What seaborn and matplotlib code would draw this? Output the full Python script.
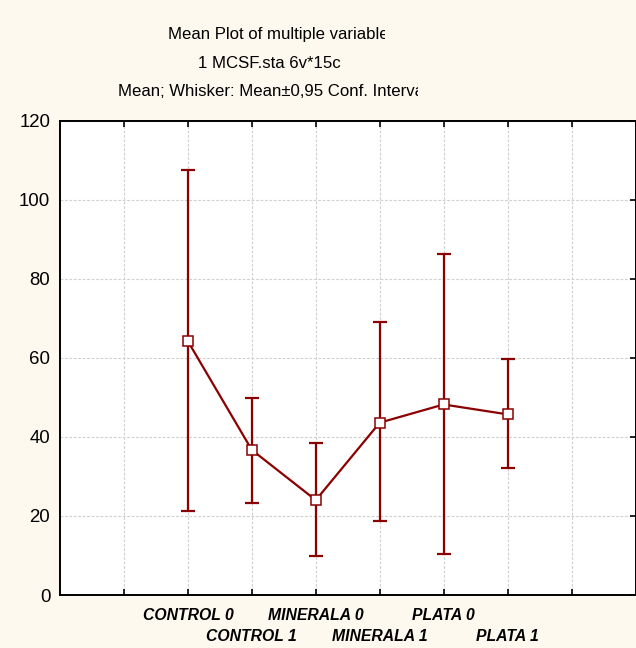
import numpy as np
import pandas as pd
import matplotlib
matplotlib.use("Agg")
import matplotlib.pyplot as plt
from matplotlib.transforms import Bbox
import seaborn as sns

categories = ["CONTROL 0", "CONTROL 1", "MINERALA 0", "MINERALA 1", "PLATA 0", "PLATA 1"]
means = [64.2, 36.7, 24.0, 43.6, 48.2, 45.7]
ci_upper = [107.5, 49.8, 38.5, 69.1, 86.3, 59.6]
ci_lower = [21.3, 23.4, 9.9, 18.7, 10.4, 32.2]
y_ticks = [0, 20, 40, 60, 80, 100, 120]
title_lines = ["Mean Plot of multiple variables", "1 MCSF.sta 6v*15c",
               "Mean; Whisker: Mean\u00b10,95 Conf. Interval"]

BG = "#fdf9ef"
RED = "#8b0000"
W, H = 636, 648

sns.set_theme(style="white")
plt.rcParams["font.family"] = ["Liberation Sans", "DejaVu Sans"]
plt.rcParams["text.color"] = "black"
plt.rcParams["xtick.labelcolor"] = "black"
plt.rcParams["ytick.labelcolor"] = "black"

fig = plt.figure(figsize=(W / 100, H / 100), dpi=100, facecolor=BG)
ax = fig.add_axes([60 / W, 1 - 595 / H, (635.5 - 60) / W, (595 - 120.7) / H])
ax.set_facecolor("white")

pos = np.arange(len(categories))
df = pd.DataFrame({"pos": pos, "mean": means, "lo": ci_lower, "hi": ci_upper})

ax.errorbar(df["pos"], df["mean"],
            yerr=[df["mean"] - df["lo"], df["hi"] - df["mean"]],
            fmt="none", ecolor=RED, elinewidth=1.6, capsize=5.3, capthick=1.6, zorder=3)
sns.lineplot(data=df, x="pos", y="mean", ax=ax, color=RED, linewidth=1.6,
             marker="s", markersize=6.8, markerfacecolor="white",
             markeredgecolor=RED, markeredgewidth=1.1, zorder=4)

ax.set_xlim(-2, 7)
ax.set_ylim(0, 120)
ax.set_xlabel("")
ax.set_ylabel("")

# major ticks (grid positions) with the first row of labels
xt = list(range(-1, 7))
ax.set_xticks(xt)
ax.set_xticklabels([categories[t] if (0 <= t < len(categories) and t % 2 == 0) else ""
                    for t in xt],
                   fontsize=11.3, fontweight="bold", fontstyle="italic")
# minor ticks carry the second (staggered) row of labels
odd = [int(p) for p in pos if p % 2 == 1]
ax.xaxis.remove_overlapping_locs = False
ax.set_xticks(odd, minor=True)
ax.set_xticklabels([categories[i] for i in odd], minor=True,
                   fontsize=11.3, fontweight="bold", fontstyle="italic")

ax.set_yticks(y_ticks)
ax.set_yticklabels([str(v) for v in y_ticks], fontsize=13.4)

ax.grid(True, which="major", color="#d0d0d0", linestyle=(0, (2.5, 1.5)), linewidth=0.8)
ax.set_axisbelow(True)
ax.tick_params(axis="both", which="major", direction="in", length=4, width=1.2,
               color="black", top=True, right=True, bottom=True, left=False)
ax.tick_params(axis="x", which="major", pad=9)
ax.tick_params(axis="x", which="minor", length=0, pad=24.8, top=False)
ax.tick_params(axis="y", pad=7)
for s in ax.spines.values():
    s.set_visible(True)
    s.set_color("black")
    s.set_linewidth(1.4)

# titles (clipped like the original)
starts = [168, 198, 118]
ys = [35, 63, 91]
clips = [385, 700, 418]
for s, x0, y0, xc in zip(title_lines, starts, ys, clips):
    t = fig.text(x0 / W, 1 - y0 / H, s, ha="left", va="center", fontsize=12.1, color="black")
    t.set_clip_box(Bbox.from_extents(0, 0, xc, H))
    t.set_clip_on(True)

fig.savefig("out.png", dpi=100, facecolor=BG)
